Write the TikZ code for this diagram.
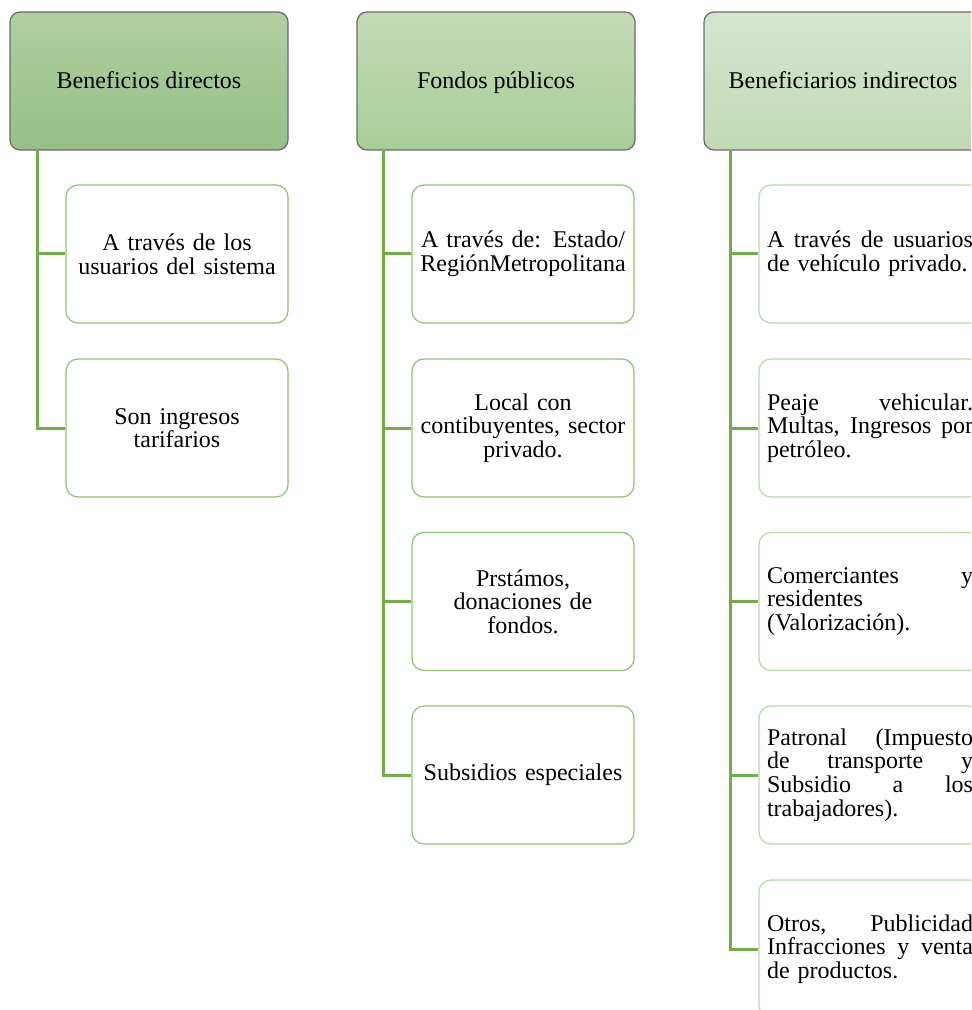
\documentclass[tikz,border=0pt]{standalone}
\usepackage{fontspec}
\setmainfont{Liberation Serif}
\definecolor{linkgreen}{HTML}{70AD47}
\definecolor{itemgreen}{HTML}{8CC26A}
\definecolor{itemlight}{HTML}{B4D8A0}
\definecolor{headedge}{HTML}{6A6A6A}
\newcommand{\spreadline}[1]{\makebox[103pt][s]{\spaceskip=.25em plus 1fill\relax #1}}
\begin{document}
\begin{tikzpicture}[x=0.5pt,y=-0.5pt,
  headbox/.style={draw=headedge, line width=0.6pt, rounded corners=5pt,
    minimum width=139pt, minimum height=69pt, align=center,
    text height=10.5pt, text depth=2.5pt,
    font=\fontsize{12pt}{11.8pt}\selectfont},
  itembox/.style={draw=itemgreen, line width=0.6pt, rounded corners=6pt,
    text width=103pt, inner xsep=4pt, minimum height=69pt, align=center,
    font=\fontsize{12pt}{11.8pt}\selectfont},
  itemjust/.style={itembox, draw=itemlight, align=left},
  link/.style={draw=linkgreen, line width=1.5pt}]
\useasboundingbox (0,0) rectangle (971,1010);
\clip (0,0) rectangle (971,1010);
% column heads
\node [headbox, top color={rgb,255:red,176;green,207;blue,160}, bottom color={rgb,255:red,150;green,191;blue,134}] (direct) at (149,81) {Beneficios directos};
\node [headbox, top color={rgb,255:red,196;green,218;blue,183}, bottom color={rgb,255:red,168;green,206;blue,152}] (fondos) at (496,81) {Fondos públicos};
\node [headbox, top color={rgb,255:red,215;green,229;blue,208}, bottom color={rgb,255:red,192;green,217;blue,180}] (indirect) at (843,81) {Beneficiarios indirectos};
% first column
\node [itembox] (usuarios) at (177,254) {A través de los\\usuarios del sistema};
\node [itembox] (tarifas) at (177,428) {Son ingresos\\tarifarios};
% second column
\node [itembox] (estado) at (523,254) {A través de: Estado/\\RegiónMetropolitana};
\node [itembox] (local) at (523,428) {Local con\\contibuyentes, sector\\privado.};
\node [itembox] (prestamos) at (523,601.5) {Prstámos,\\donaciones de\\fondos.};
\node [itembox] (subsidios) at (523,775) {Subsidios especiales};
% third column
\node [itemjust] (privado) at (870,254) {\spreadline{A través de usuarios}\\de vehículo privado.};
\node [itemjust] (peaje) at (870,428) {\spreadline{Peaje vehicular.}\\\spreadline{Multas, Ingresos por}\\petróleo.};
\node [itemjust] (comercio) at (870,601.5) {\spreadline{Comerciantes y}\\residentes\\(Valorización).};
\node [itemjust] (patronal) at (870,775) {\spreadline{Patronal (Impuesto}\\\spreadline{de transporte y}\\\spreadline{Subsidio a los}\\trabajadores).};
\node [itemjust] (otros) at (870,949) {\spreadline{Otros, Publicidad}\\\spreadline{Infracciones y venta}\\de productos.};
% connectors
\draw [link] ([xshift=14pt]direct.south west) |- (usuarios.west);
\draw [link] ([xshift=14pt]direct.south west) |- (tarifas.west);
\draw [link] ([xshift=13.5pt]fondos.south west) |- (estado.west);
\draw [link] ([xshift=13.5pt]fondos.south west) |- (local.west);
\draw [link] ([xshift=13.5pt]fondos.south west) |- (prestamos.west);
\draw [link] ([xshift=13.5pt]fondos.south west) |- (subsidios.west);
\draw [link] ([xshift=13.5pt]indirect.south west) |- (privado.west);
\draw [link] ([xshift=13.5pt]indirect.south west) |- (peaje.west);
\draw [link] ([xshift=13.5pt]indirect.south west) |- (comercio.west);
\draw [link] ([xshift=13.5pt]indirect.south west) |- (patronal.west);
\draw [link] ([xshift=13.5pt]indirect.south west) |- (otros.west);
\end{tikzpicture}
\end{document}
